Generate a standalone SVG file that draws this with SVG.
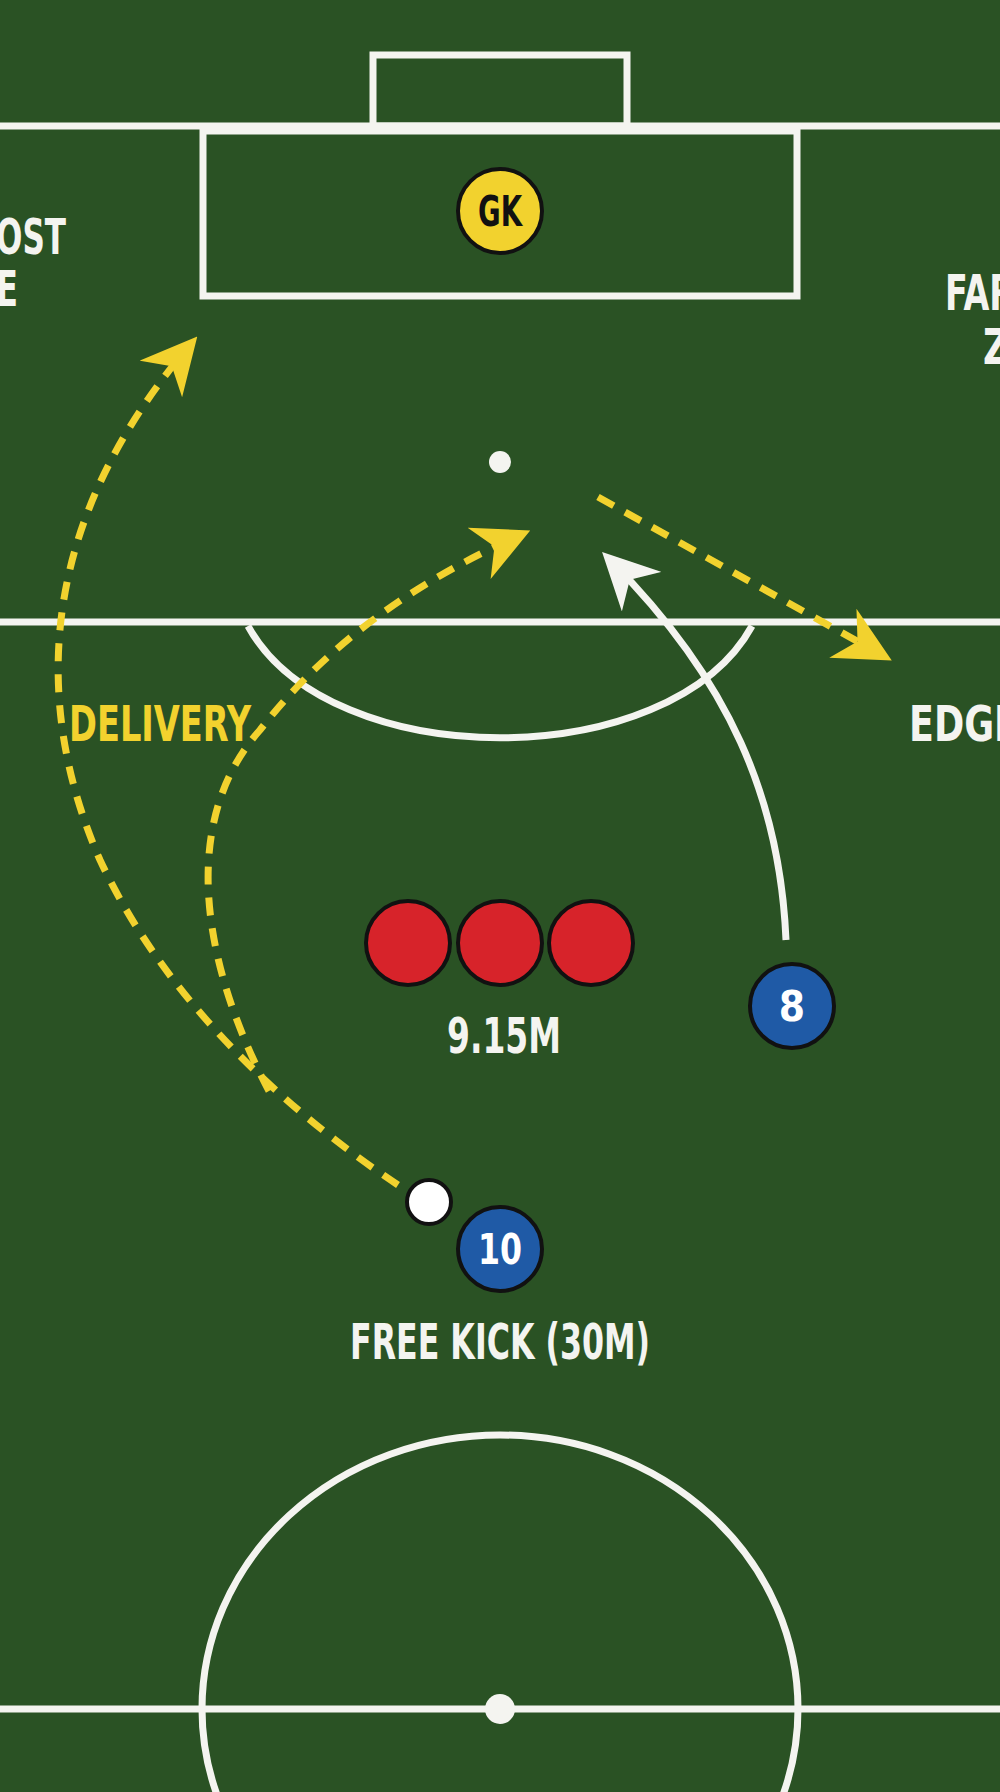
<svg xmlns="http://www.w3.org/2000/svg" width="1000" height="1792" viewBox="0 0 1000 1792">
<defs>
<style>
.line{fill:none;stroke:#f4f4f0;stroke-width:7}
.yd{fill:none;stroke:#f2d22e;stroke-width:7;stroke-dasharray:18 13}
.lbl{font-family:"DejaVu Sans Condensed","DejaVu Sans",sans-serif;font-weight:bold;fill:#f4f4f0;font-size:50px}
.num{font-family:"DejaVu Sans Condensed","DejaVu Sans",sans-serif;font-weight:bold;fill:#fff;font-size:42px;text-anchor:middle}
.blue{fill:#1f5aa6;stroke:#111;stroke-width:4}
.red{fill:#d7232a;stroke:#111;stroke-width:4}
</style>
<marker id="ya" viewBox="0 0 10 10" refX="8" refY="5" markerWidth="8" markerHeight="8" markerUnits="strokeWidth" orient="auto"><path d="M0,0 L10,5 L0,10 L3,5 Z" fill="#f2d22e"/></marker>
<marker id="wa" viewBox="0 0 10 10" refX="8" refY="5" markerWidth="8" markerHeight="8" markerUnits="strokeWidth" orient="auto"><path d="M0,0 L10,5 L0,10 L3,5 Z" fill="#f4f4f0"/></marker>
</defs>
<rect width="1000" height="1792" fill="#2a5224"/>
<g id="pitch">
<rect x="373" y="55" width="254" height="71" class="line"/>
<line x1="0" y1="126" x2="1000" y2="126" class="line"/>
<rect x="203" y="131" width="594" height="165" class="line"/>
<circle cx="500" cy="462" r="11" fill="#f4f4f0"/>
<line x1="0" y1="622" x2="1000" y2="622" class="line"/>
<path d="M248,626 C330,775 670,775 752,626" class="line"/>
<line x1="0" y1="1709" x2="1000" y2="1709" class="line"/>
<ellipse cx="500" cy="1709" rx="298" ry="274" class="line"/>
<circle cx="500" cy="1709" r="15" fill="#f4f4f0"/>
</g>
<g id="connectors">
<path d="M398,1185 C300,1120 170,1010 100,860 C30,700 40,520 190,345" class="yd" marker-end="url(#ya)"/>
<path d="M269,1091 C200,960 180,820 260,730 C330,640 420,580 520,535" class="yd" marker-end="url(#ya)"/>
<path d="M598,497 L882,655" class="yd" marker-end="url(#ya)"/>
<path d="M786,940 C780,800 730,680 610,560" class="line" marker-end="url(#wa)"/>
</g>
<g id="gk"><circle cx="500" cy="211" r="42" fill="#f2d22e" stroke="#111" stroke-width="4"/><text x="500" y="226" class="num" style="fill:#111" textLength="44" lengthAdjust="spacingAndGlyphs">GK</text></g>
<g id="wall"><circle cx="408" cy="943" r="42" class="red"/><circle cx="500" cy="943" r="42" class="red"/><circle cx="591" cy="943" r="42" class="red"/></g>
<g id="p8"><circle cx="792" cy="1006" r="42" class="blue"/><text x="792" y="1021" class="num">8</text></g>
<g id="ball"><circle cx="429" cy="1202" r="22" fill="#fff" stroke="#111" stroke-width="4"/></g>
<g id="p10"><circle cx="500" cy="1249" r="42" class="blue"/><text x="500" y="1264" class="num" textLength="44" lengthAdjust="spacingAndGlyphs">10</text></g>
<g id="labels">
<text x="504" y="1053" class="lbl" text-anchor="middle" textLength="114" lengthAdjust="spacingAndGlyphs">9.15M</text>
<text x="500" y="1359" class="lbl" text-anchor="middle" textLength="300" lengthAdjust="spacingAndGlyphs">FREE KICK (30M)</text>
<text x="69" y="741" class="lbl" style="fill:#f2d22e" textLength="182" lengthAdjust="spacingAndGlyphs">DELIVERY</text>
<text x="909" y="741" class="lbl" textLength="110" lengthAdjust="spacingAndGlyphs">EDGE</text>
<text x="66" y="254" class="lbl" text-anchor="end" textLength="70" lengthAdjust="spacingAndGlyphs">OST</text>
<text x="18" y="306" class="lbl" text-anchor="end" textLength="22" lengthAdjust="spacingAndGlyphs">E</text>
<text x="945" y="310" class="lbl" textLength="70" lengthAdjust="spacingAndGlyphs">FAR</text>
<text x="983" y="364" class="lbl" textLength="26" lengthAdjust="spacingAndGlyphs">Z</text>
</g>
</svg>
